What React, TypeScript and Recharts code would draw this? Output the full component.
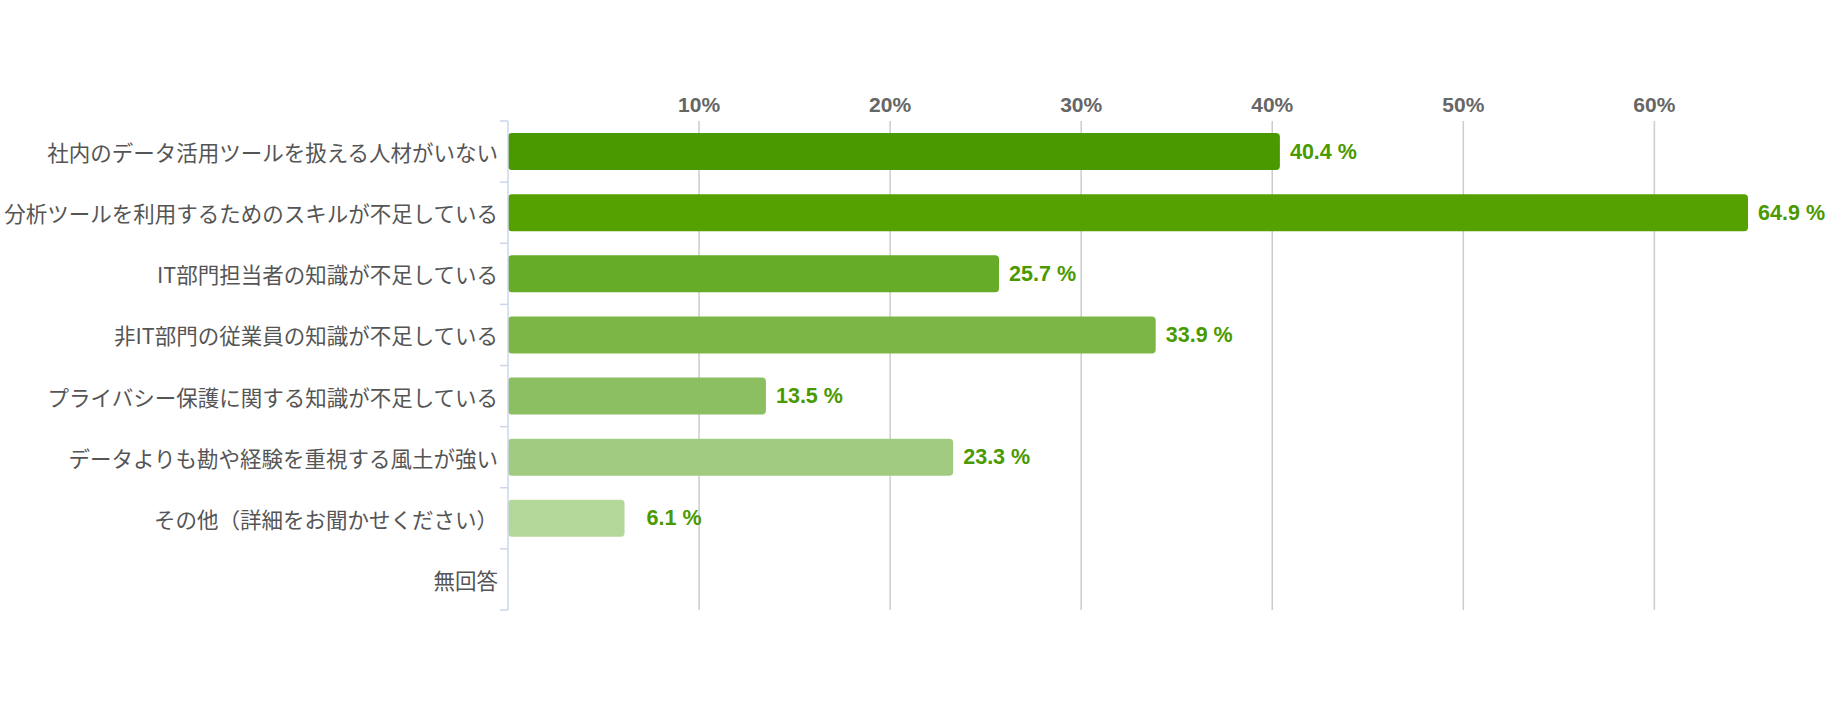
import React from 'react';
import { BarChart, Bar, XAxis, YAxis, CartesianGrid, Cell, LabelList } from 'recharts';

const categories = [
  '社内のデータ活用ツールを扱える人材がいない',
  '分析ツールを利用するためのスキルが不足している',
  'IT部門担当者の知識が不足している',
  '非IT部門の従業員の知識が不足している',
  'プライバシー保護に関する知識が不足している',
  'データよりも勘や経験を重視する風土が強い',
  'その他（詳細をお聞かせください）',
  '無回答',
];
const values: (number | null)[] = [40.4, 64.9, 25.7, 33.9, 13.5, 23.3, 6.1, null];
const barColors = ['#4a9900', '#55a100', '#67ac29', '#7bb647', '#8bbf62', '#a0cb80', '#b4d79a', '#c8e2b5'];
const xTicks = [10, 20, 30, 40, 50, 60];

const data = categories.map((name, i) => ({ name, value: values[i] }));
const xMax = Math.max(...values.map((v) => v ?? 0));

const W = 1827;
const H = 726;
const margin = { top: 81, right: 79, bottom: 116, left: 0 };
const xAxisHeight = 40;
const plotHeight = H - margin.top - margin.bottom - xAxisHeight;
const band = plotHeight / categories.length;

const latin = '"Liberation Sans", Arial, sans-serif';
const cjk = '"Noto Sans CJK JP", "Noto Sans", sans-serif';

// category label + boundary tick marks (ticks sit between categories)
const CategoryTick = (props: any) => {
  const { x, y, payload, index } = props;
  const axisX = x + 10;
  return (
    <g>
      <line x1={axisX - 8} x2={axisX} y1={y - band / 2} y2={y - band / 2} stroke="#ccd6eb" strokeWidth={1.5} />
      {index === categories.length - 1 && (
        <line x1={axisX - 8} x2={axisX} y1={y + band / 2} y2={y + band / 2} stroke="#ccd6eb" strokeWidth={1.5} />
      )}
      <text x={x} y={y} textAnchor="end" dominantBaseline="central" fill="#555" fontSize={21.5} fontFamily={cjk}>
        {payload.value}
      </text>
    </g>
  );
};

const ValueLabel = (props: any) => {
  const { x, y, width, height, value } = props;
  if (value == null) return null;
  return (
    <text
      x={x + width + 77}
      y={y + height / 2}
      textAnchor="end"
      dominantBaseline="central"
      fill="#4a9900"
      fontSize={21.5}
      fontWeight="bold"
      fontFamily={latin}
    >
      {`${value.toFixed(1)} %`}
    </text>
  );
};

// grid only at the labelled ticks, no line at the data max
const gridX = ({ offset }: any) => xTicks.map((t) => offset.left + (t / xMax) * offset.width);

export default function App() {
  return (
    <div style={{ position: 'absolute', left: 0, top: 0, width: W, height: H, background: '#fff' }}>
      <BarChart width={W} height={H} data={data} layout="vertical" margin={margin} barCategoryGap={0}>
        <CartesianGrid
          horizontal={false}
          vertical
          stroke="#cccccc"
          strokeWidth={1.5}
          verticalCoordinatesGenerator={gridX}
        />
        <XAxis
          type="number"
          orientation="top"
          domain={[0, 'dataMax']}
          ticks={xTicks}
          height={xAxisHeight}
          axisLine={false}
          tickLine={false}
          tickSize={0}
          tickMargin={9}
          tickFormatter={(v) => `${v}%`}
          tick={{ fill: '#666', fontSize: 21, fontWeight: 'bold', fontFamily: latin }}
        />
        <YAxis
          type="category"
          dataKey="name"
          width={508}
          axisLine={{ stroke: '#ccd6eb', strokeWidth: 1.5 }}
          tickLine={false}
          tickSize={0}
          tickMargin={10}
          interval={0}
          tick={<CategoryTick />}
        />
        <Bar dataKey="value" barSize={37} radius={4} isAnimationActive={false}>
          {data.map((d, i) => (
            <Cell key={d.name} fill={barColors[i]} />
          ))}
          <LabelList dataKey="value" content={<ValueLabel />} />
        </Bar>
      </BarChart>
    </div>
  );
}
